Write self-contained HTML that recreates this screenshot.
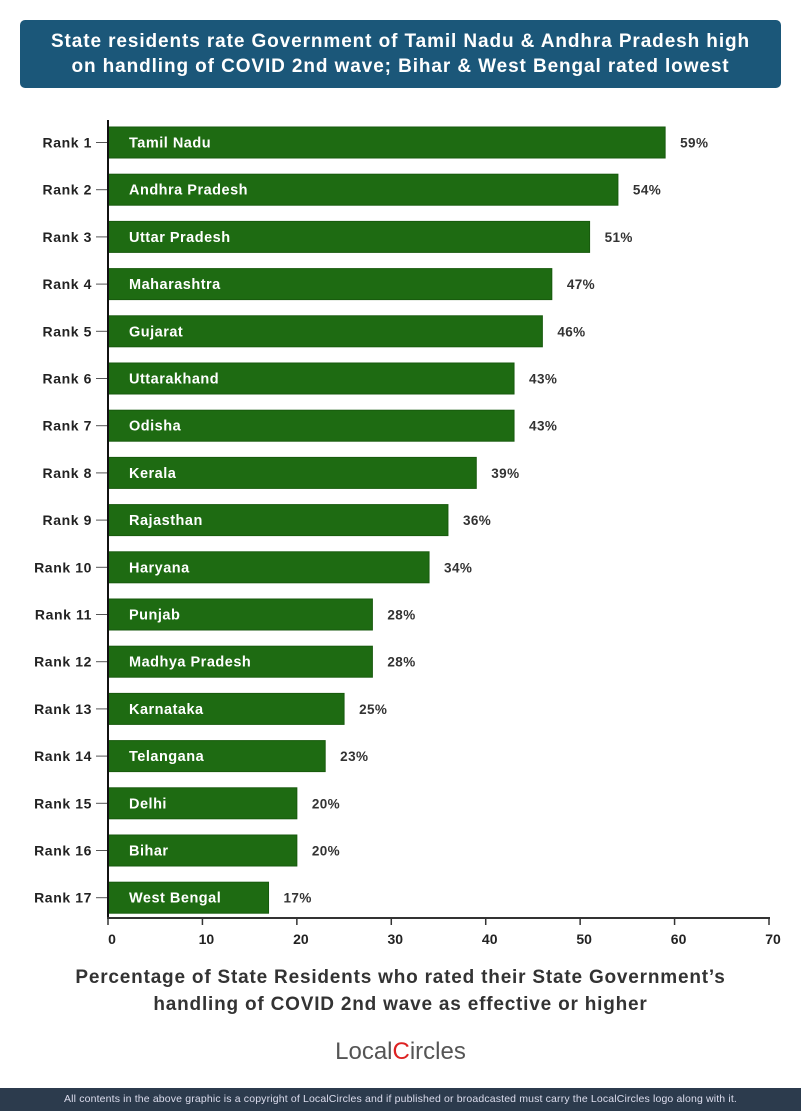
<!DOCTYPE html>
<html><head><meta charset="utf-8"><style>
body{margin:0;width:801px;height:1111px;background:#fff;font-family:"Liberation Sans",sans-serif;position:relative;overflow:hidden}
#title{position:absolute;left:20px;top:20px;width:761px;height:68px;background:#1b5779;border-radius:5px;color:#fff;font-weight:bold;font-size:19px;letter-spacing:0.9px;text-align:center;line-height:25px;padding-top:9px;box-sizing:border-box;white-space:nowrap}
#xtitle{position:absolute;left:0;width:801px;top:964px;text-align:center;font-size:19px;letter-spacing:0.8px;font-weight:bold;color:#333;line-height:27px;white-space:nowrap}
#logo{position:absolute;left:0;width:801px;top:1038px;text-align:center;font-size:24px;color:#555}
#footer{position:absolute;left:0;top:1088px;width:801px;height:23px;background:#2c3b4d;color:#dde;font-size:10.5px;letter-spacing:0.15px;line-height:23px;text-align:center;white-space:nowrap}
</style></head><body>
<div id="title">State residents rate Government of Tamil Nadu &amp; Andhra Pradesh high<br>on handling of COVID 2nd wave; Bihar &amp; West Bengal rated lowest</div>
<svg id="chart" width="801" height="960" style="position:absolute;left:0;top:0"></svg>
<div id="xtitle">Percentage of State Residents who rated their State Government’s<br>handling of COVID 2nd wave as effective or higher</div>
<div id="logo">Local<span style="color:#d22">C</span>ircles</div>
<div id="footer">All contents in the above graphic is a copyright of LocalCircles and if published or broadcasted must carry the LocalCircles logo along with it.</div>
<script>
const states=["Tamil Nadu","Andhra Pradesh","Uttar Pradesh","Maharashtra","Gujarat","Uttarakhand","Odisha","Kerala","Rajasthan","Haryana","Punjab","Madhya Pradesh","Karnataka","Telangana","Delhi","Bihar","West Bengal"];
const values=[59,54,51,47,46,43,43,39,36,34,28,28,25,23,20,20,17];
const xTicks=[0,10,20,30,40,50,60,70];
const NS="http://www.w3.org/2000/svg";
const svg=document.getElementById('chart');
const x0=108,x1=769,xmax=70;
const xs=v=>x0+(x1-x0)*v/xmax;
const yc=i=>142.5+i*47.2;
function mk(t,a,txt){const e=document.createElementNS(NS,t);for(const k in a)e.setAttribute(k,a[k]);if(txt!=null)e.textContent=txt;svg.appendChild(e);return e;}
states.forEach((s,i)=>{
  const y=yc(i);
  const r=mk('rect',{x:x0,y:y-15.5,width:xs(values[i])-x0,height:31,fill:'#1e6b12',stroke:'#175a0d','stroke-width':1});
  
  
  const n=mk('text',{x:129,y:y+5,fill:'#fff','font-size':14.5,'font-weight':'bold','letter-spacing':0.5},s);
  
  
  const v=mk('text',{x:xs(values[i])+15,y:y+5,fill:'#333','font-size':13.5,'font-weight':'bold','letter-spacing':0.4},values[i]+'%');
  
  
  const rk=mk('text',{x:92,y:y+5,fill:'#222','font-size':14,'font-weight':'bold','text-anchor':'end','letter-spacing':0.6},'Rank '+(i+1));
  
  
  mk('line',{x1:96,x2:x0,y1:y,y2:y,stroke:'#555','stroke-width':1});
});
const ya=mk('line',{x1:x0,x2:x0,y1:120,y2:918,stroke:'#111','stroke-width':2});


const xa=mk('line',{x1:x0-1,x2:x1+1,y1:918,y2:918,stroke:'#333','stroke-width':2});


xTicks.forEach(t=>{
  mk('line',{x1:xs(t),x2:xs(t),y1:918,y2:925,stroke:'#333','stroke-width':1.5});
  const l=mk('text',{x:xs(t)+4,y:944,fill:'#222','font-size':14,'font-weight':'bold','text-anchor':'middle'},t);
  
  
});
</script>
</body></html>
